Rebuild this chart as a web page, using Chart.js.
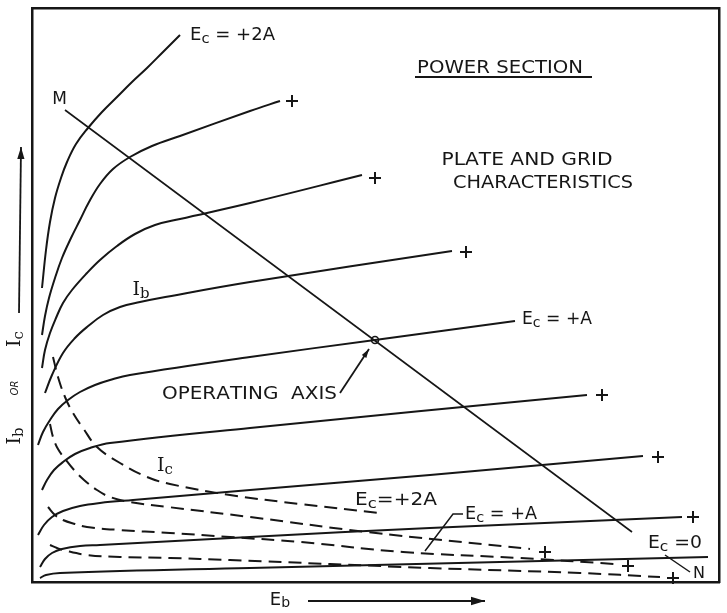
<!DOCTYPE html>
<html>
<head>
<meta charset="utf-8">
<script src="https://cdn.jsdelivr.net/npm/chart.js@4.4.1/dist/chart.umd.min.js"></script>
<style>
html, body { margin: 0; padding: 0; background: #fff; }
</style>
</head>
<body>
<canvas id="myChart" width="727" height="613"></canvas>
<script>

// plate current Ib, [Eb, I] in arbitrary units (0..137 by 0..115)
const ibEc2A  = [[2,58.8],[2.8,66.4],[3.6,72],[4.6,76.8],[5.8,80.8],[7,84],[8.8,87.6],[11.2,90.8],[14,94],[17,97],[20,100],[23,102.8],[26.2,106],[29.6,109.4]];
const ibStep2 = [[2,49.4],[2.6,53.2],[3.4,56.8],[4.6,60.8],[6,64.8],[7.8,68.8],[9.6,72.4],[11.4,76],[13.6,79.6],[16.2,82.6],[19.6,85],[24,87.2],[29.6,89.2],[43.6,94.2],[49.6,96.2]];
const ibStep3 = [[2,42.8],[2.6,46.4],[3.6,49.8],[4.8,52.8],[6.2,55.8],[8,58.4],[11,61.8],[13.6,64.4],[17,67.2],[20.6,69.6],[24.6,71.4],[29.6,72.6],[43.6,75.8],[66,81.4]];
const ibStep4 = [[2.6,37.8],[4,41.4],[6.2,45.8],[8.6,48.8],[11,51],[14.2,53.4],[17.6,55],[21.6,56],[25.6,56.8],[43.6,60],[84,66.2]];
const ibEcA   = [[1.2,27.4],[2.2,30],[3.6,32.4],[5.2,34.6],[7.2,36.4],[9.6,38],[12.6,39.4],[15.6,40.4],[19.6,41.4],[43.6,45],[68.6,48.4],[96.6,52.2]];
const ibStep6 = [[2,18.4],[3,20.4],[4.4,22.4],[6.2,24],[8.6,25.6],[11.6,26.8],[15.6,27.8],[43.6,30.8],[111,37.4]];
const ibStep7 = [[1.2,9.4],[2.4,11.4],[4,13],[6.2,14.2],[9.6,15.2],[13.6,15.8],[20.2,16.4],[43.6,18.4],[79.6,21.4],[122.2,25.2]];
const ibStep8 = [[1.6,3],[2.6,4.6],[4,5.8],[6,6.6],[9.6,7.2],[13.6,7.4],[43.6,9],[79.6,10.8],[130,13]];
const ibEc0   = [[1.6,0.8],[2.8,1.4],[5.6,1.8],[43.6,2.8],[135.2,5]];

// grid current Ic (dashed)
const icEc2A  = [[4.2,45],[5.2,41],[6.6,37],[8.2,33.8],[10.2,30.8],[13,27],[17.6,23.8],[23,21],[27.6,19.6],[39.6,17.4],[53.6,15.6],[69.6,13.8]];
const icStep2 = [[3.6,31.6],[4.2,29],[5.2,26.6],[6.8,24.4],[8.6,22.2],[10.4,20.4],[13,18.4],[15.6,17],[19.6,16],[27.2,15],[43.6,13],[67,10],[99.6,6.6]];
const icEcA   = [[3.2,15],[4.6,13.4],[6.2,12.4],[8.6,11.6],[11,11],[17.6,10.4],[27.6,9.8],[39.6,9],[53.6,8],[74.2,6],[97.6,4.8],[116.6,3.6]];
const icStep4 = [[3.6,7.4],[5,6.8],[6.2,6.4],[11,5.4],[17.6,5],[27.6,4.8],[39.6,4.4],[79.6,2.8],[109.6,1.8],[125.6,1]];

// "+" marks at the end of the unlabelled curves
const plusEnds = [[52,96.2],[68.6,80.8],[86.8,66],[114,37.4],[125.2,25],[132.2,13],[102.6,6],[119.2,3.2],[128.2,0.8]];

// operating axis M-N and operating point
const mnLine  = [[6.6,94.4],[120,10]];
const opPoint = [[68.6,48.4]];
const leaderA = [[86.2,13.6],[84.2,13.6],[78.6,6.2]];
const leaderN = [[126.6,5.4],[131.6,2]];

const ink = '#161616';

const textLabels = [
  { t: 'E_c = +2A', x: 31.6, y: 109.2, size: 17, w: 85 },
  { t: 'POWER SECTION', x: 93.6, y: 102.7, size: 18, w: 166, align: 'center' },
  { t: 'PLATE AND GRID', x: 99, y: 84.4, size: 18, w: 171, align: 'center' },
  { t: 'CHARACTERISTICS', x: 102.2, y: 79.8, size: 18, w: 180, align: 'center' },
  { t: 'M', x: 5.5, y: 96.4, size: 17, align: 'center' },
  { t: 'I_b', x: 21.8, y: 58.4, size: 19, align: 'center', serif: true },
  { t: 'E_c = +A', x: 98, y: 52.4, size: 17, w: 70 },
  { t: 'OPERATING  AXIS', x: 26, y: 37.4, size: 17, w: 175 },
  { t: 'I_c', x: 26.6, y: 23.2, size: 19, align: 'center', serif: true },
  { t: 'E_c=+2A', x: 64.6, y: 16.2, size: 17, w: 82 },
  { t: 'E_c = +A', x: 86.6, y: 13.4, size: 17, w: 72 },
  { t: 'E_c =0', x: 123.2, y: 7.6, size: 17, w: 54 },
  { t: 'N', x: 133.4, y: 1.6, size: 16, align: 'center' },
  { t: 'E_b', x: 49.6, y: -3.6, size: 18, align: 'center' },
  { t: 'I_b', x: -3.4, y: 29.2, size: 19, align: 'center', serif: true, rot: -Math.PI / 2 },
  { t: 'OR', x: -3.4, y: 38.8, size: 10, align: 'center', italic: true, rot: -Math.PI / 2 },
  { t: 'I_c', x: -3.4, y: 48.6, size: 19, align: 'center', serif: true, rot: -Math.PI / 2 }
];

const arrows = [
  { from: [55.2, -3.8], to: [90.6, -3.8], head: 14 },
  { from: [-2.6, 53.8], to: [-2.2, 87], head: 12 },
  { from: [61.6, 37.8], to: [67.4, 46.6], head: 9 }
];
const underline = [[76.6, 101], [112, 101]];


function pts(arr) {
  return arr.map(p => ({ x: p[0], y: p[1] }));
}

function curve(arr, dashed) {
  return {
    data: pts(arr),
    borderColor: ink,
    borderWidth: 2,
    borderDash: dashed ? [13, 7] : [],
    pointRadius: 0,
    fill: false,
    tension: 0.4,
    clip: false
  };
}

function straight(arr, width) {
  return { data: pts(arr), borderColor: ink, borderWidth: width, pointRadius: 0, fill: false, tension: 0, clip: false };
}

function drawRich(ctx, l, px, py) {
  const size = l.size || 18;
  const fam = l.serif ? '"DejaVu Serif", serif' : '"DejaVu Sans", sans-serif';
  const segs = [];
  for (let i = 0; i < l.t.length; i++) {
    if (l.t[i] === '_') { segs.push({ s: l.t[i + 1], sub: true }); i++; }
    else segs.push({ s: l.t[i], sub: false });
  }
  const fontOf = g => (l.italic ? 'italic ' : '') + (g.sub ? Math.round(size * 0.8) : size) + 'px ' + fam;
  ctx.save();
  let total = 0;
  segs.forEach(g => {
    ctx.font = fontOf(g);
    g.w = ctx.measureText(g.s).width;
    total += g.w;
  });
  const k = l.w ? l.w / total : 1;
  ctx.translate(px, py);
  if (l.rot) ctx.rotate(l.rot);
  ctx.scale(k, 1);
  let x = l.align === 'center' ? -total / 2 : 0;
  ctx.textBaseline = 'middle';
  ctx.textAlign = 'left';
  segs.forEach(g => {
    ctx.font = fontOf(g);
    ctx.fillText(g.s, x, g.sub ? size * 0.2 : 0);
    x += g.w;
  });
  ctx.restore();
}

function arrow(ctx, x1, y1, x2, y2, head) {
  ctx.beginPath();
  ctx.moveTo(x1, y1);
  ctx.lineTo(x2, y2);
  ctx.stroke();
  const a = Math.atan2(y2 - y1, x2 - x1);
  const c = Math.cos(a), s = Math.sin(a), hw = head * 0.3;
  ctx.beginPath();
  ctx.moveTo(x2, y2);
  ctx.lineTo(x2 - head * c + hw * s, y2 - head * s - hw * c);
  ctx.lineTo(x2 - head * c - hw * s, y2 - head * s + hw * c);
  ctx.closePath();
  ctx.fill();
}

const sketchLabels = {
  id: 'sketchLabels',
  afterDatasetsDraw(chart) {
    const ctx = chart.ctx;
    const X = v => chart.scales.x.getPixelForValue(v);
    const Y = v => chart.scales.y.getPixelForValue(v);
    ctx.save();
    ctx.fillStyle = ink;
    ctx.strokeStyle = ink;
    textLabels.forEach(l => drawRich(ctx, l, X(l.x), Y(l.y)));

    ctx.lineWidth = 2;
    ctx.beginPath();
    ctx.moveTo(X(underline[0][0]), Y(underline[0][1]));
    ctx.lineTo(X(underline[1][0]), Y(underline[1][1]));
    ctx.stroke();

    ctx.lineWidth = 1.8;
    arrows.forEach(a => arrow(ctx, X(a.from[0]), Y(a.from[1]), X(a.to[0]), Y(a.to[1]), a.head));
    ctx.restore();
  }
};

const hiddenScale = (pos) => ({
  type: 'linear',
  position: pos,
  ticks: { display: false },
  grid: { display: false, drawTicks: false },
  border: { display: true, color: ink, width: 2.5 }
});

new Chart(document.getElementById('myChart'), {
  type: 'line',
  data: {
    datasets: [
      curve(ibEc2A), curve(ibStep2), curve(ibStep3), curve(ibStep4), curve(ibEcA),
      curve(ibStep6), curve(ibStep7), curve(ibStep8), curve(ibEc0),
      curve(icEc2A, true), curve(icStep2, true), curve(icEcA, true), curve(icStep4, true),
      straight(mnLine, 1.6),
      straight(leaderA, 1.5),
      straight(leaderN, 1.5),
      {
        data: pts(plusEnds), showLine: false, pointStyle: 'cross', pointRadius: 6,
        borderColor: ink, borderWidth: 2, clip: false
      },
      {
        data: pts(opPoint), showLine: false, pointStyle: 'circle', pointRadius: 3.5,
        backgroundColor: '#fff', borderColor: ink, borderWidth: 1.6, clip: false
      }
    ]
  },
  options: {
    responsive: false,
    animation: false,
    events: [],
    layout: { padding: { left: 32, top: 8, right: 8, bottom: 31 } },
    plugins: { legend: { display: false }, tooltip: { enabled: false } },
    scales: {
      x: Object.assign(hiddenScale('bottom'), { min: 0, max: 137.4 }),
      y: Object.assign(hiddenScale('left'), { min: 0, max: 114.8 }),
      x2: Object.assign(hiddenScale('top'), { min: 0, max: 137.4 }),
      y2: Object.assign(hiddenScale('right'), { min: 0, max: 114.8 })
    }
  },
  plugins: [sketchLabels]
});

</script>
</body>
</html>
